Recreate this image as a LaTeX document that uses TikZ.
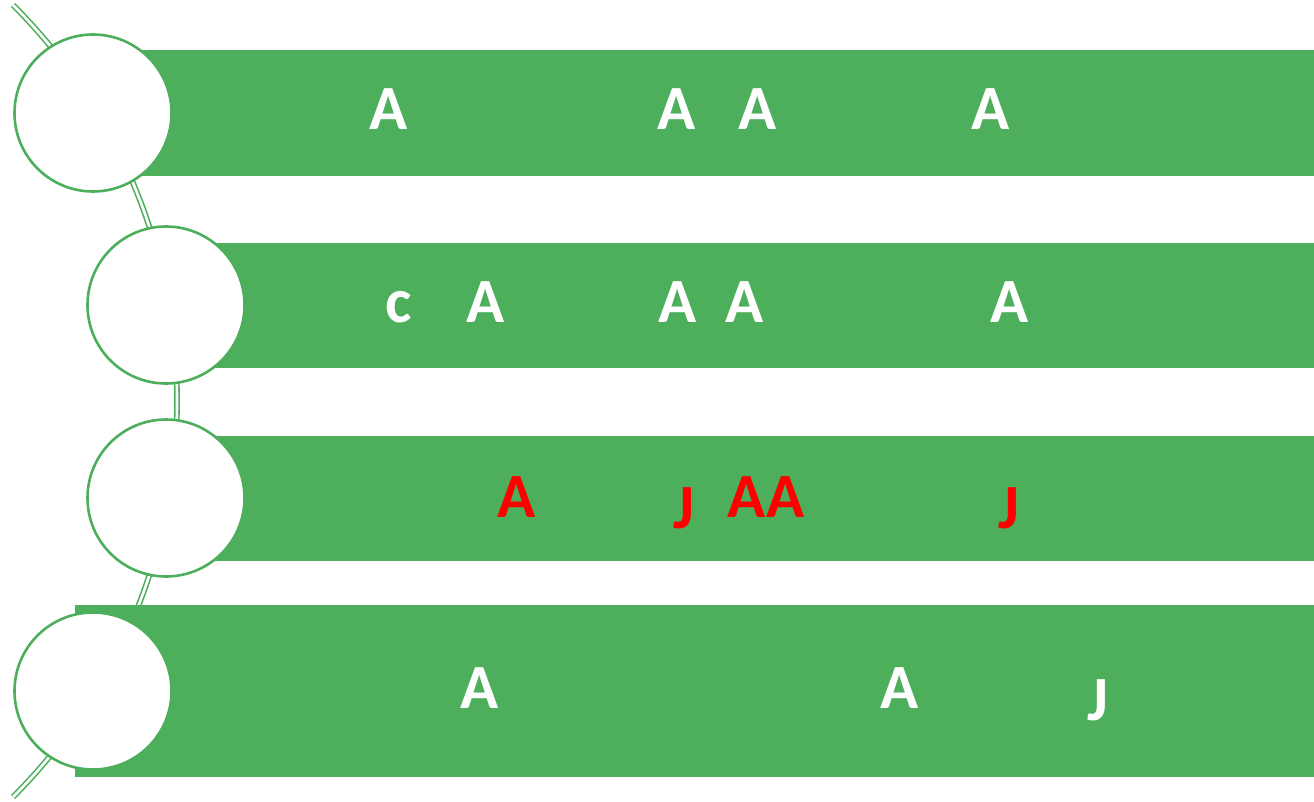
\documentclass[tikz,border=0pt]{standalone}
\usepackage{fontspec}
\setmainfont{Carlito}
\usepackage{xcolor}
\usepackage{tikz}
\usetikzlibrary{positioning}
\definecolor{BarGreen}{RGB}{77,175,92}
\definecolor{MarkRed}{RGB}{255,0,0}

\begin{document}
\begin{tikzpicture}[x=1pt, y=1pt,
  letter/.style={anchor=base, inner sep=0pt, text=white,
                 font=\fontsize{63}{70}\selectfont\bfseries},
  redletter/.style={letter, text=MarkRed},
  ring/.style={circle, draw=BarGreen, line width=2.6, fill=white,
               minimum size=157, inner sep=0pt},
  link/.style={draw=BarGreen, line width=1.6, double=white, double distance=2.6}]
\useasboundingbox (0,0) rectangle (1314,-802);
\def\R{1314}

% ---- connector behind the rings ----
\coordinate (arctop) at (13,-5);
\draw[link] (arctop) arc[start angle=45, end angle=-45, radius=560];

% ---- bars ----
\fill[BarGreen] (93,-50)   rectangle (\R,-176);
\fill[BarGreen] (166,-243) rectangle (\R,-368);
\fill[BarGreen] (166,-436) rectangle (\R,-561);
\fill[BarGreen] (75,-605)  rectangle (\R,-777);

% ---- rings ----
\node[ring] (ring1) at (93,-113) {};
\node[ring] (ring2) at (166,-305) {};
\node[ring] (ring3) at (166,-498) {};
\node[ring] (ring4) at (93,-691) {};

% ---- row 1 ----
\foreach \x [count=\i] in {389, 677, 758, 991}{
  \node[letter] (a1\i) at (\x,-130) {A};
}

% ---- row 2 ----
\node[letter] (c2) at (399,-323) {c};
\foreach \x [count=\i] in {486, 678, 745, 1010}{
  \node[letter] (a2\i) at (\x,-323) {A};
}

% ---- row 3 ----
\node[redletter] (a31) at (517,-517) {A};
\node[redletter] (j31) at (684,-528) {J};
\node[redletter] (aa3) at (766,-517) {AA};
\node[redletter] (j32) at (1009,-528) {J};

% ---- row 4 ----
\node[letter] (a41) at (480,-708) {A};
\node[letter] (a42) at (900,-708) {A};
\node[letter] (j41) at (1098,-720) {J};

\end{tikzpicture}
\end{document}
